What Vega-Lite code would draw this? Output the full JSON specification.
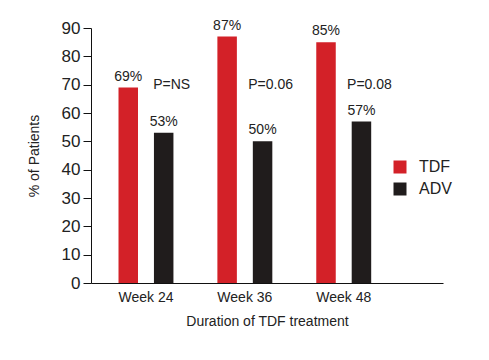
{
  "$schema": "https://vega.github.io/schema/vega-lite/v6.json",
  "autosize": {"type": "none"},
  "width": 352,
  "height": 255,
  "padding": {"left": 91, "top": 28, "right": 46, "bottom": 77},
  "background": "white",
  "config": {
    "view": {"stroke": null},
    "font": "Liberation Sans",
    "axis": {"labelColor": "#222222", "titleColor": "#222222", "titleFontWeight": "normal", "domainColor": "#111111", "tickColor": "#111111", "grid": false, "labelFont": "Liberation Sans", "titleFont": "Liberation Sans"},
    "legend": {"labelFont": "Liberation Sans", "labelColor": "#222222"}
  },
  "datasets": {
    "bars": [
      {"week": "Week 24", "drug": "TDF", "value": 69, "label": "69%"},
      {"week": "Week 24", "drug": "ADV", "value": 53, "label": "53%"},
      {"week": "Week 36", "drug": "TDF", "value": 87, "label": "87%"},
      {"week": "Week 36", "drug": "ADV", "value": 50, "label": "50%"},
      {"week": "Week 48", "drug": "TDF", "value": 85, "label": "85%"},
      {"week": "Week 48", "drug": "ADV", "value": 57, "label": "57%"}
    ],
    "pvals": [
      {"week": "Week 24", "drug": "ADV", "value": 70, "label": "P=NS"},
      {"week": "Week 36", "drug": "ADV", "value": 70, "label": "P=0.06"},
      {"week": "Week 48", "drug": "ADV", "value": 70, "label": "P=0.08"}
    ]
  },
  "encoding": {
    "x": {
      "field": "week", "type": "nominal", "sort": ["Week 24", "Week 36", "Week 48"],
      "scale": {"paddingInner": 0, "paddingOuter": 0.28, "align": 0.1},
      "axis": {"title": "Duration of TDF treatment", "labelAngle": 0, "ticks": false, "labelFontSize": 14, "labelPadding": 7, "titleFontSize": 14, "titlePadding": 10}
    },
    "xOffset": {
      "field": "drug", "type": "nominal", "sort": ["TDF", "ADV"],
      "scale": {"paddingInner": 0.45, "paddingOuter": 0.62}
    },
    "y": {
      "field": "value", "type": "quantitative",
      "scale": {"domain": [0, 90], "nice": false},
      "axis": {"title": "% of Patients", "values": [0, 10, 20, 30, 40, 50, 60, 70, 80, 90], "tickSize": 8, "labelFontSize": 17, "labelPadding": 3, "titleFontSize": 14, "titlePadding": 20}
    }
  },
  "layer": [
    {
      "data": {"name": "bars"},
      "mark": {"type": "bar"},
      "encoding": {
        "color": {
          "field": "drug", "type": "nominal", "sort": ["TDF", "ADV"],
          "scale": {"domain": ["TDF", "ADV"], "range": ["#d32128", "#201c1c"]},
          "legend": {"title": null, "orient": "none", "legendX": 301, "legendY": 131, "symbolType": "square", "symbolSize": 169, "symbolStrokeWidth": 0, "labelFontSize": 16, "labelOffset": 11, "rowPadding": 6, "padding": 0}
        }
      }
    },
    {
      "data": {"name": "bars"},
      "mark": {"type": "text", "baseline": "alphabetic", "dy": -7, "fontSize": 14, "color": "#222222"},
      "encoding": {"text": {"field": "label"}}
    },
    {
      "data": {"name": "pvals"},
      "mark": {"type": "text", "baseline": "middle", "dx": 8, "fontSize": 14, "color": "#222222"},
      "encoding": {"text": {"field": "label"}}
    }
  ]
}
